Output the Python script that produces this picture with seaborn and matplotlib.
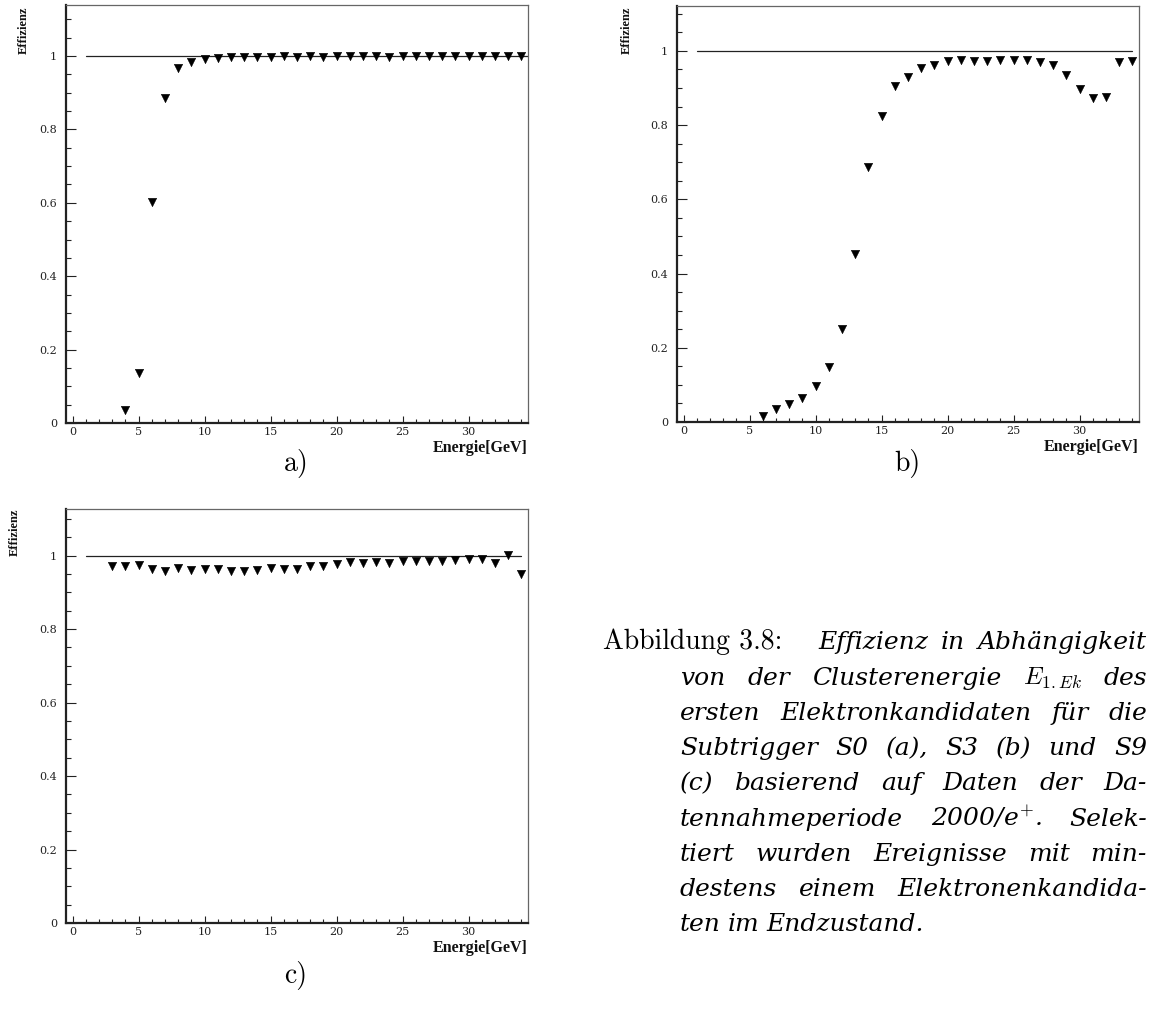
import matplotlib
matplotlib.use("Agg")
import matplotlib.pyplot as plt
import seaborn as sns
import pandas as pd
from matplotlib.ticker import MultipleLocator

# ---------------- data ----------------
energy_a = list(range(4, 35))
eff_a = [0.035, 0.137, 0.601, 0.886, 0.968, 0.983, 0.991, 0.994, 0.996, 0.998,
         0.998, 0.997, 0.999, 0.998, 0.999, 0.998, 0.999, 0.999, 0.999, 0.999,
         0.998, 0.999, 0.999, 0.999, 0.999, 0.999, 0.999, 1.000, 1.000, 1.000, 1.000]

energy_b = list(range(6, 35))
eff_b = [0.017, 0.035, 0.048, 0.065, 0.097, 0.149, 0.250, 0.452, 0.686, 0.825,
         0.906, 0.930, 0.953, 0.962, 0.972, 0.975, 0.973, 0.973, 0.975, 0.975,
         0.976, 0.971, 0.962, 0.934, 0.897, 0.872, 0.877, 0.970, 0.974]

energy_c = list(range(3, 35))
eff_c = [0.973, 0.973, 0.975, 0.963, 0.957, 0.967, 0.962, 0.964, 0.964, 0.957,
         0.958, 0.962, 0.967, 0.964, 0.963, 0.973, 0.972, 0.977, 0.983, 0.979,
         0.982, 0.980, 0.985, 0.985, 0.985, 0.986, 0.987, 0.990, 0.990, 0.980,
         1.003, 0.949]

ref_y = [1.0, 1.0]
ref_x_a = [1, 34.5]
ref_x_b = [1, 34]
ref_x_c = [1, 34]

xtick_vals = [0, 5, 10, 15, 20, 25, 30]
xtick_labels = ["0", "5", "10", "15", "20", "25", "30"]
ytick_vals = [0, 0.2, 0.4, 0.6, 0.8, 1.0]
ytick_labels = ["0", "0.2", "0.4", "0.6", "0.8", "1"]
x_label = "Energie[GeV]"
y_label = "Effizienz"
panel_letters = ["a)", "b)", "c)"]

caption_head = "Abbildung 3.8:"
caption_first = "Effizienz in Abhängigkeit"
caption_lines = [
    "von der Clusterenergie $E_{\\mathrm{1.}Ek}$ des",
    "ersten Elektronkandidaten für die",
    "Subtrigger S0 (a), S3 (b) und S9",
    "(c) basierend auf Daten der Da-",
    "tennahmeperiode 2000/e$^{+}$. Selek-",
    "tiert wurden Ereignisse mit min-",
    "destens einem Elektronenkandida-",
    "ten im Endzustand.",
]

# ---------------- style ----------------
sns.set_theme(style="ticks")
plt.rcParams["font.family"] = ["Liberation Serif", "DejaVu Serif"]
plt.rcParams["mathtext.fontset"] = "cm"

W, H = 1149, 1011
fig = plt.figure(figsize=(W / 100, H / 100), dpi=100)


def px_rect(l, t, r, b):
    return [l / W, 1 - b / H, (r - l) / W, (b - t) / H]


def fx(x):
    return x / W


def fy(y):
    return 1 - y / H


panels = [
    dict(rect=px_rect(66, 5, 528, 423), ymax=1.139, x=energy_a, y=eff_a, rx=ref_x_a,
         lab=(23.5, 30), letter=panel_letters[0], lpos=(296, 463)),
    dict(rect=px_rect(677, 6, 1139, 422), ymax=1.121, x=energy_b, y=eff_b, rx=ref_x_b,
         lab=(626.5, 30), letter=panel_letters[1], lpos=(907, 463)),
    dict(rect=px_rect(66, 509, 528, 923), ymax=1.127, x=energy_c, y=eff_c, rx=ref_x_c,
         lab=(15, 532), letter=panel_letters[2], lpos=(296, 975)),
]

for p in panels:
    ax = fig.add_axes(p["rect"])
    df = pd.DataFrame({"E": p["x"], "eff": p["y"]})
    sns.lineplot(x=p["rx"], y=ref_y, color="#222222", linewidth=0.9, ax=ax, zorder=2)
    sns.scatterplot(data=df, x="E", y="eff", marker="v", s=36, color="black",
                    edgecolor="black", linewidth=0.4, ax=ax, zorder=3, legend=False)
    ax.set_xlim(-0.5, 34.5)
    ax.set_ylim(0, p["ymax"])
    ax.set_xticks(xtick_vals, xtick_labels)
    ax.set_yticks(ytick_vals, ytick_labels)
    ax.xaxis.set_minor_locator(MultipleLocator(1))
    ax.yaxis.set_minor_locator(MultipleLocator(0.05))
    ax.set_xlabel("")
    ax.set_ylabel("")
    ax.tick_params(axis="both", which="both", direction="in", top=False, right=False,
                   labelsize=8, colors="#222222", width=0.8)
    for lbl in ax.get_xticklabels() + ax.get_yticklabels():
        lbl.set_family("DejaVu Serif")
    ax.tick_params(axis="x", which="major", length=5.4, pad=3)
    ax.tick_params(axis="x", which="minor", length=2.9)
    ax.tick_params(axis="y", which="major", length=7.2, pad=6.5)
    ax.tick_params(axis="y", which="minor", length=3.6)
    for s in ["left", "bottom"]:
        ax.spines[s].set_linewidth(1.6)
        ax.spines[s].set_color("#222222")
    for s in ["top", "right"]:
        ax.spines[s].set_linewidth(0.9)
        ax.spines[s].set_color("#666666")
    ax.text(1.0, -25 / (p["rect"][3] * H), x_label, transform=ax.transAxes,
            ha="right", va="center", fontsize=11.5, fontweight="bold", color="#111111")
    fig.text(fx(p["lab"][0]), fy(p["lab"][1]), y_label, rotation=90, ha="center",
             va="center", fontsize=9, fontweight="bold", color="#111111")
    fig.text(fx(p["lpos"][0]), fy(p["lpos"][1]), p["letter"], ha="center", va="center",
             family="cmr10", fontsize=20, color="black")

# ---------------- caption ----------------
it_kw = dict(family=["DejaVu Serif", "Liberation Serif"], style="italic", fontsize=18,
             color="black")
rm_kw = dict(family="cmr10", fontsize=20, color="black")

line_y = [649, 685, 720, 755, 790, 826, 861, 896, 931]
X0, X1, XHEAD, XFIRST = 680, 1147, 603, 818

fig.text(fx(XHEAD), fy(line_y[0]), caption_head, ha="left", va="baseline", **rm_kw)

renderer = fig.canvas.get_renderer()


def place_words(text, x0, x1, yb, justify):
    words = text.split(" ")
    objs = [fig.text(0, fy(yb), w, ha="left", va="baseline", **it_kw) for w in words]
    widths = [o.get_window_extent(renderer).width for o in objs]
    if justify and len(words) > 1:
        gap = (x1 - x0 - sum(widths)) / (len(words) - 1)
    else:
        gap = 7
    x = x0
    for o, w in zip(objs, widths):
        o.set_x(fx(x))
        x += w + gap


place_words(caption_first, XFIRST, X1, line_y[0], True)
for i, ln in enumerate(caption_lines):
    place_words(ln, X0, X1, line_y[i + 1], i < len(caption_lines) - 1)

fig.savefig("out.png", dpi=100)
